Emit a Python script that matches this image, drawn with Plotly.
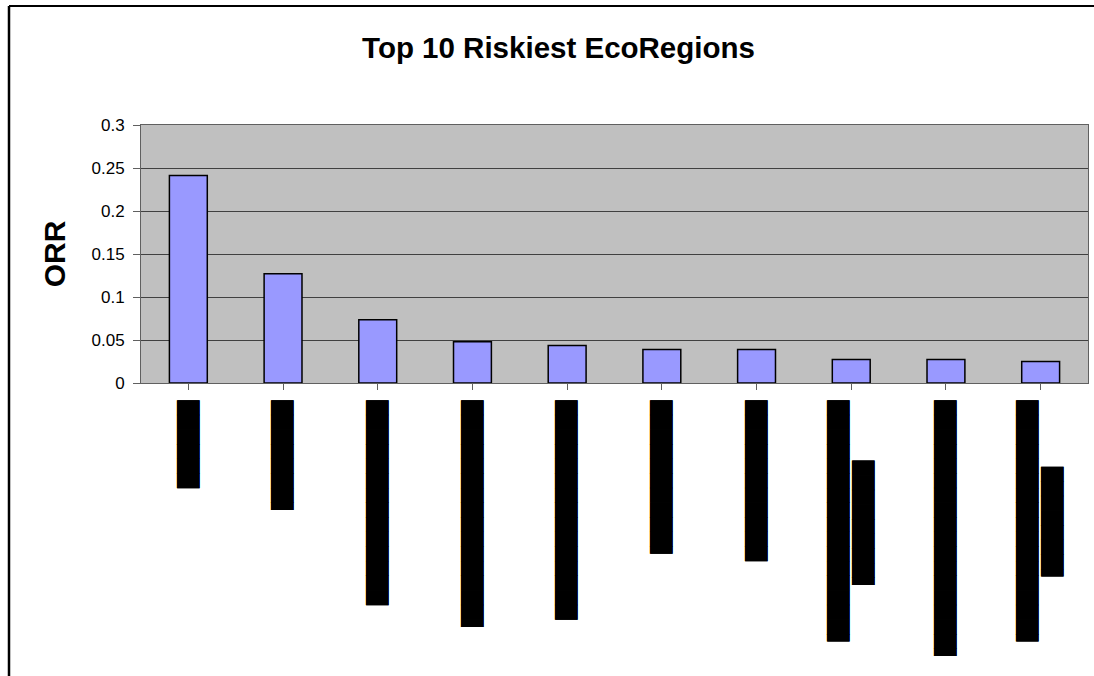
import plotly.graph_objects as go

B = "\u2588"   # full block
R = "\u2590"   # right half block
NB = "\u00a0"

# Category labels are illegible (redacted) in the reference: rendered as solid blocks
categories = [
    B * 6,
    R + B * 7,
    B * 14,
    R + B * 15,
    B * 15,
    R + B * 10,
    B * 11,
    R + B * 16 + "<br>" + R + B * 8 + NB * 10,
    R + B * 17,
    R + B * 16 + "<br>" + R + B * 7 + NB * 11,
]
orr_values = [0.2414, 0.127, 0.0736, 0.048, 0.0437, 0.039, 0.039, 0.0274, 0.0274, 0.025]
y_ticks = [0, 0.05, 0.1, 0.15, 0.2, 0.25, 0.3]
y_tick_text = ["0", "0.05", "0.1", "0.15", "0.2", "0.25", "0.3"]

fig = go.Figure(
    go.Bar(
        x=list(range(len(categories))),
        y=orr_values,
        marker=dict(color="#9999FF", line=dict(color="black", width=1.5)),
    )
)

W, H = 1094, 676
ml, mr, mt, mb = 141, 6, 125, 293
pw = W - ml - mr
ph = H - mt - mb

fig.update_layout(
    width=W,
    height=H,
    margin=dict(l=ml, r=mr, t=mt, b=mb, autoexpand=False),
    paper_bgcolor="white",
    plot_bgcolor="#C0C0C0",
    bargap=0.6,
    showlegend=False,
    font=dict(family="Liberation Sans, Arial, sans-serif", color="black"),
    title=dict(
        text="<b>Top 10 Riskiest EcoRegions</b>",
        font=dict(size=29.5, family="Liberation Sans, Arial, sans-serif", color="black"),
        x=(558.5 - ml) / pw,
        xref="paper",
        xanchor="center",
        y=1 - 48 / H,
        yref="container",
        yanchor="middle",
    ),
    xaxis=dict(
        tickmode="array",
        tickvals=list(range(len(categories))),
        ticktext=categories,
        tickangle=-90,
        tickson="boundaries",
        ticks="outside",
        ticklen=6,
        tickcolor="#606060",
        tickfont=dict(family="DejaVu Sans", size=19, color="black",
                      shadow="0px 0px 0.6px black"),
        showline=True,
        linecolor="#606060",
        linewidth=1,
        mirror=True,
        showgrid=False,
        range=[-0.5, len(categories) - 0.5],
        ticklabelstandoff=3,
        automargin=False,
    ),
    yaxis=dict(
        range=[0, 0.3],
        tickmode="array",
        tickvals=y_ticks,
        ticktext=y_tick_text,
        ticks="outside",
        ticklen=7,
        tickcolor="#606060",
        tickfont=dict(size=17, color="black"),
        showline=True,
        linecolor="#606060",
        linewidth=1,
        mirror=True,
        showgrid=True,
        gridcolor="#404040",
        gridwidth=1,
        zeroline=False,
        ticklabelstandoff=5,
        automargin=False,
        title=dict(text="<b>ORR</b>", font=dict(size=30, color="black"), standoff=17),
    ),
)

# outer chart-area border: only its top and left edges fall inside the window
top_y = ((H - mb) - 6) / ph
left_x = (9 - ml) / pw
fig.add_shape(type="line", xref="paper", yref="paper",
              x0=left_x, x1=(1300 - ml) / pw, y0=top_y, y1=top_y,
              line=dict(color="black", width=2), layer="below")
fig.add_shape(type="line", xref="paper", yref="paper",
              x0=left_x, x1=left_x, y0=top_y, y1=-(900 - (H - mb)) / ph,
              line=dict(color="black", width=2.5), layer="below")

fig.write_html("out.html")
